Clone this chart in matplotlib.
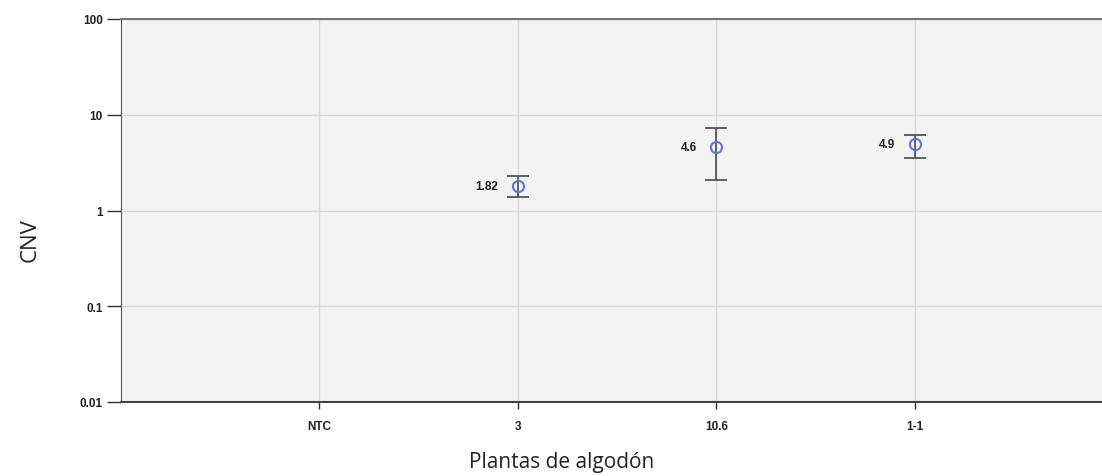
import matplotlib
matplotlib.use("Agg")
import matplotlib.pyplot as plt
import numpy as np

# datos del grafico
plantas = ["NTC", "3", "10.6", "1-1"]
cnv = [np.nan, 1.82, 4.6, 4.9]
cnv_sup = [np.nan, 2.27, 7.2, 6.2]
cnv_inf = [np.nan, 1.37, 2.06, 3.5]
etiquetas = ["", "1.82", "4.6", "4.9"]
yticks = [0.01, 0.1, 1, 10, 100]
yticklabels = ["0.01", "0.1", "1", "10", "100"]

fig = plt.figure(figsize=(11.02, 4.77), dpi=100)
# el area del grafico se sale por la derecha, como en la imagen
ax = fig.add_axes([121/1102, 1 - 403/477, (1113 - 121)/1102, (403 - 20)/477])
ax.set_facecolor("#f3f3f3")

x = np.arange(len(plantas))
y = np.array(cnv)
err = np.array([y - np.array(cnv_inf), np.array(cnv_sup) - y])

ax.errorbar(x, y, yerr=err, fmt="none", ecolor="#555555", elinewidth=1.3,
            capsize=8, capthick=1.3, zorder=3)
ax.plot(x, y, "o", ms=8, mfc="none", mec="#5a78dc", mew=1.5, zorder=4)

for xi, yi, t in zip(x, y, etiquetas):
    if t:
        ax.annotate(t, (xi, yi), xytext=(-14, 0), textcoords="offset points",
                    ha="right", va="center", fontsize=8.5, fontweight="bold",
                    color="#222222", family="Liberation Sans")

ax.set_yscale("log")
ax.set_ylim(0.01, 100)
ax.set_xlim(-1, 4)
ax.set_yticks(yticks)
ax.set_yticklabels(yticklabels)
ax.minorticks_off()
ax.set_xticks(x)
ax.set_xticklabels(plantas)

for lab in ax.get_xticklabels() + ax.get_yticklabels():
    lab.set_fontsize(8.5)
    lab.set_fontweight("bold")
    lab.set_family("Liberation Sans")
    lab.set_color("#222222")

ax.grid(True, color="#d9d9d9", linewidth=1)
ax.set_axisbelow(True)

ax.spines["left"].set_color("#555555")
ax.spines["bottom"].set_color("#444444")
ax.spines["bottom"].set_linewidth(1.5)
ax.spines["top"].set_color("#777777")
ax.spines["top"].set_linewidth(1.5)
ax.spines["right"].set_visible(False)
ax.tick_params(axis="y", length=10, width=1, color="#333333", pad=3)
ax.tick_params(axis="x", length=5, width=1, color="#333333", pad=8)

fig.text(30/1102, 1 - 240/477, "CNV", rotation=90, ha="center", va="center",
         fontsize=16, family="Open Sans", color="#222222")
fig.text(562/1102, 1 - 463/477, "Plantas de algodón", ha="center", va="center",
         fontsize=15, family="Open Sans", color="#222222")

fig.savefig("out.png", dpi=100)
